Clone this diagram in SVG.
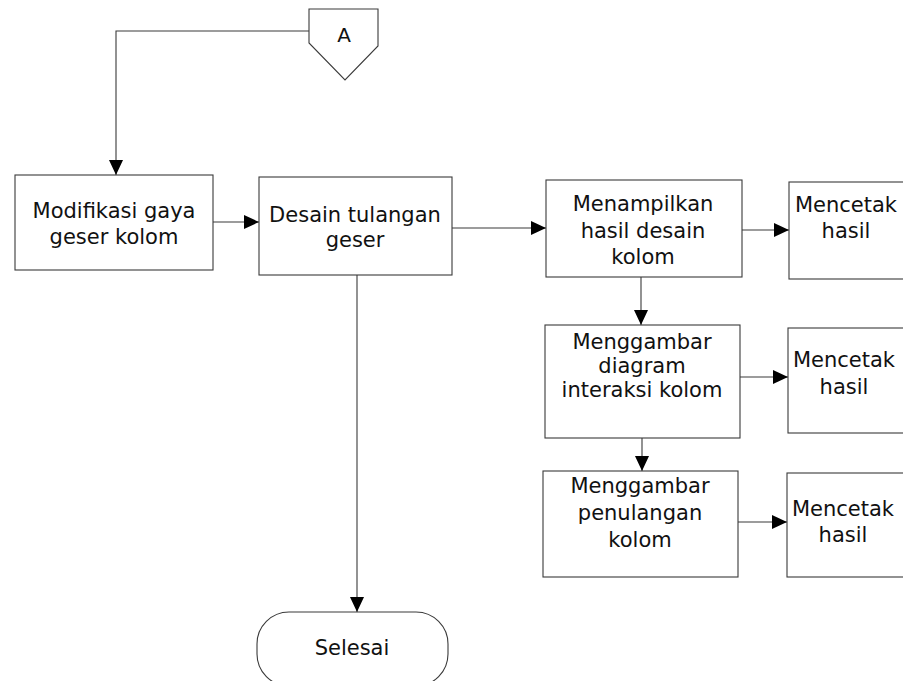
<svg xmlns="http://www.w3.org/2000/svg" width="903" height="681" viewBox="0 0 903 681">
  <style>
    .box { fill: #ffffff; stroke: #3a3a3a; stroke-width: 1.1; }
    .lbl { font-family: "DejaVu Sans", Verdana, sans-serif; font-size: 21px; fill: #111; text-anchor: middle; }
    .wire { fill: none; stroke: #3a3a3a; stroke-width: 1.1; }
  </style>
  <defs>
    <marker id="arrow" viewBox="0 0 15 14" refX="15" refY="7" markerWidth="15" markerHeight="14" markerUnits="userSpaceOnUse" orient="auto">
      <path d="M0,0 L15,7 L0,14 Z" fill="#000"/>
    </marker>
  </defs>
  <rect width="903" height="681" fill="#ffffff"/>

  <!-- connectors -->
  <g id="connectors">
    <polyline class="wire" points="309,31 116,31 116,175" marker-end="url(#arrow)"/>
    <line class="wire" x1="213" y1="222" x2="259" y2="222" marker-end="url(#arrow)"/>
    <line class="wire" x1="452" y1="228" x2="546" y2="228" marker-end="url(#arrow)"/>
    <line class="wire" x1="742" y1="230" x2="789" y2="230" marker-end="url(#arrow)"/>
    <line class="wire" x1="641" y1="277" x2="641" y2="325" marker-end="url(#arrow)"/>
    <line class="wire" x1="740" y1="377" x2="788" y2="377" marker-end="url(#arrow)"/>
    <line class="wire" x1="642" y1="438" x2="642" y2="471" marker-end="url(#arrow)"/>
    <line class="wire" x1="738" y1="522" x2="787" y2="522" marker-end="url(#arrow)"/>
    <line class="wire" x1="357" y1="275" x2="357" y2="612" marker-end="url(#arrow)"/>
  </g>

  <!-- off-page connector -->
  <g id="connector-a">
    <polygon class="box" points="309,9 378,9 378,46 345,80 309,43"/>
    <text class="lbl" x="344" y="42" style="font-size:20px">A</text>
  </g>

  <g id="modifikasi">
    <rect class="box" x="15" y="175" width="198" height="95"/>
    <text class="lbl" x="114" y="218">Modifikasi gaya</text>
    <text class="lbl" x="114" y="244">geser kolom</text>
  </g>

  <g id="desain">
    <rect class="box" x="259" y="177" width="193" height="98"/>
    <text class="lbl" x="355" y="222">Desain tulangan</text>
    <text class="lbl" x="355" y="247">geser</text>
  </g>

  <g id="menampilkan">
    <rect class="box" x="546" y="180" width="196" height="97"/>
    <text class="lbl" x="643" y="211">Menampilkan</text>
    <text class="lbl" x="643" y="238">hasil desain</text>
    <text class="lbl" x="643" y="264">kolom</text>
  </g>

  <g id="cetak1">
    <rect class="box" x="789" y="182" width="120" height="97"/>
    <text class="lbl" x="846" y="212">Mencetak</text>
    <text class="lbl" x="846" y="238">hasil</text>
  </g>

  <g id="diagram-interaksi">
    <rect class="box" x="545" y="325" width="195" height="113"/>
    <text class="lbl" x="642" y="349">Menggambar</text>
    <text class="lbl" x="642" y="373">diagram</text>
    <text class="lbl" x="642" y="397">interaksi kolom</text>
  </g>

  <g id="cetak2">
    <rect class="box" x="788" y="328" width="121" height="105"/>
    <text class="lbl" x="844" y="367">Mencetak</text>
    <text class="lbl" x="844" y="394">hasil</text>
  </g>

  <g id="penulangan">
    <rect class="box" x="543" y="471" width="195" height="106"/>
    <text class="lbl" x="640" y="493">Menggambar</text>
    <text class="lbl" x="640" y="520">penulangan</text>
    <text class="lbl" x="640" y="547">kolom</text>
  </g>

  <g id="cetak3">
    <rect class="box" x="787" y="473" width="122" height="104"/>
    <text class="lbl" x="843" y="516">Mencetak</text>
    <text class="lbl" x="843" y="542">hasil</text>
  </g>

  <g id="selesai">
    <rect class="box" x="257" y="612" width="191" height="74" rx="32" ry="32"/>
    <text class="lbl" x="352" y="655">Selesai</text>
  </g>
</svg>
